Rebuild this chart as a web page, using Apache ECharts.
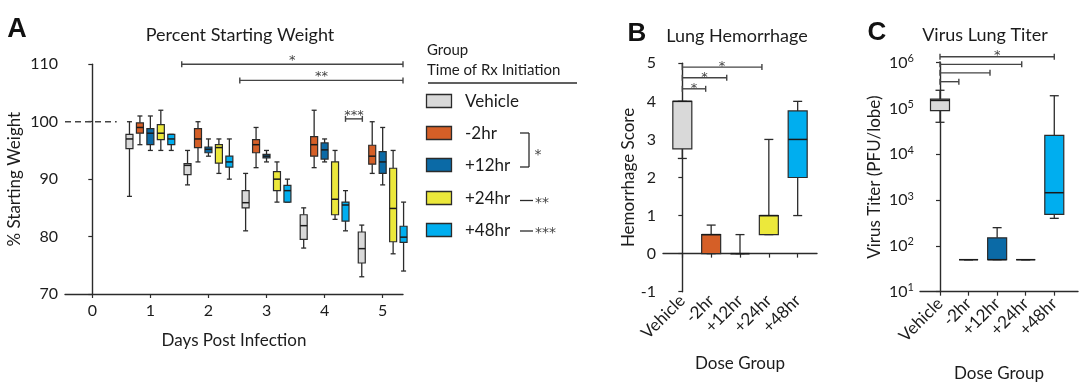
<!DOCTYPE html>
<html><head><meta charset="utf-8">
<script src="https://cdn.jsdelivr.net/npm/echarts@6/dist/echarts.min.js"></script>
<style>html,body{margin:0;padding:0;background:#fff}#c{width:1080px;height:387px}</style>
</head><body><div id="c"></div>
<script>
// ---------------- data ----------------
const days = [1, 2, 3, 4, 5];
const dayTicks = [0, 1, 2, 3, 4, 5];
const groupNames = ['Vehicle', '-2hr', '+12hr', '+24hr', '+48hr'];
// each entry: [min, q1, median, q3, max]
const weightVehicle = [[87, 95.3, 97, 97.8, 100], [89, 90.8, 92.4, 92.7, 95], [81, 85, 85.9, 88, 91], [78, 79.5, 81.9, 83.8, 85], [73, 75.4, 77.9, 80.8, 82]];
const weightMinus2 = [[96, 98, 99, 99.8, 101], [93, 95.5, 97, 98.8, 100], [92, 94.6, 96, 96.9, 99], [92, 94, 96, 97.4, 102], [91, 92.6, 94, 95.9, 100]];
const weightPlus12 = [[95, 96, 98, 98.8, 101], [94, 94.6, 95.2, 95.6, 97], [93, 93.7, 94, 94.3, 95], [93, 93.5, 95.1, 96.3, 97], [89, 91, 93, 94.8, 99]];
const weightPlus24 = [[95, 96.9, 98, 99.5, 102], [91, 92.8, 95.5, 96, 97], [86, 88, 90, 91.3, 93], [83, 83.8, 86.5, 93, 95], [77, 79.1, 84.9, 91.9, 95]];
const weightPlus48 = [[95, 96, 97, 97.8, 97.8], [90, 92.1, 93, 94, 97], [86, 86, 88, 88.9, 90], [81, 82.7, 85.5, 86, 88], [74, 79, 79.9, 81.8, 86]];
const baselineWeight = 100;
const baselineDays = [-0.47, 0.42];
const hemorrhage = [[2.5, 2.75, 4, 4, 4], [0, 0, 0.5, 0.5, 0.75], [0, 0, 0, 0, 0.5], [0.5, 0.5, 1, 1, 3], [1, 2, 3, 3.75, 4]];
const titer = [[5e4, 9e4, 1.5e5, 1.6e5, 2.5e5], [50, 50, 50, 50, 50], [50, 50, 50, 150, 250], [50, 50, 50, 50, 50], [400, 490, 1450, 26000, 190000]];
// significance bars: [from, to, level]
const sigA = [[1.54, 5.35, 110], [2.54, 5.35, 107.2], [4.36, 4.65, 100.5]];
const sigALabels = ['*', '**', '***'];
const sigB = [[0, 2.76, 4.9], [0, 1.54, 4.62], [0, 0.81, 4.33]];
const sigBLabels = ['*', '*', '*'];
const sigC = [[0, 4, 1.35e6], [0, 2.86, 9.2e5], [0, 1.75, 6e5], [0, 0.66, 3.85e5]];
const sigCLabels = ['*', '', '', ''];

// ---------------- styles ----------------
const FONT = 'Lato';
const STARFONT = '"DejaVu Sans"';
const TXT = '#1c1c1c';
const colors = ['#d9d9d9', '#d55f27', '#0b6aa6', '#ece83b', '#00aeef'];
const groupOffsets = [-0.36, -0.18, 0, 0.18, 0.36];
const INK = '#2b2b2b';
const weightSets = [weightVehicle, weightMinus2, weightPlus12, weightPlus24, weightPlus48];

function boxRenderer(boxW, capW, colorFn) {
  return function (params, api) {
    const x = api.value(0);
    const p = [1, 2, 3, 4, 5].map(i => api.coord([x, api.value(i)]));
    const cx = p[0][0];
    const yMin = p[0][1], yQ1 = p[1][1], yMed = p[2][1], yQ3 = p[3][1], yMax = p[4][1];
    const ls = { stroke: INK, lineWidth: 1.3 };
    return {
      type: 'group',
      children: [
        { type: 'line', shape: { x1: cx, y1: yMin, x2: cx, y2: yQ1 }, style: ls },
        { type: 'line', shape: { x1: cx, y1: yQ3, x2: cx, y2: yMax }, style: ls },
        { type: 'line', shape: { x1: cx - capW / 2, y1: yMin, x2: cx + capW / 2, y2: yMin }, style: ls },
        { type: 'line', shape: { x1: cx - capW / 2, y1: yMax, x2: cx + capW / 2, y2: yMax }, style: ls },
        { type: 'rect', shape: { x: cx - boxW / 2, y: yQ3, width: boxW, height: Math.max(yQ1 - yQ3, 0) },
          style: { fill: colorFn(params.dataIndex), stroke: INK, lineWidth: 1.2 } },
        { type: 'line', shape: { x1: cx - boxW / 2, y1: yMed, x2: cx + boxW / 2, y2: yMed }, style: { stroke: '#1a1a1a', lineWidth: 1.5 } }
      ]
    };
  };
}

function sigRenderer(labels, tickH, textDy) {
  return function (params, api) {
    const a = api.coord([api.value(0), api.value(2)]);
    const b = api.coord([api.value(1), api.value(2)]);
    const ls = { stroke: '#444', lineWidth: 1.4 };
    const ch = [
      { type: 'line', shape: { x1: a[0], y1: a[1], x2: b[0], y2: b[1] }, style: ls },
      { type: 'line', shape: { x1: a[0], y1: a[1] - tickH, x2: a[0], y2: a[1] + tickH }, style: ls },
      { type: 'line', shape: { x1: b[0], y1: b[1] - tickH, x2: b[0], y2: b[1] + tickH }, style: ls }
    ];
    const t = labels[params.dataIndex];
    if (t) ch.push({ type: 'text', x: (a[0] + b[0]) / 2, y: a[1] + textDy,
      style: { text: t, fill: '#444', font: '13px ' + STARFONT, align: 'center', verticalAlign: 'bottom' } });
    return { type: 'group', children: ch };
  };
}

const axisLineStyle = { lineStyle: { color: INK, width: 1.4 } };
const tickStyle = { show: true, inside: false, length: 4, lineStyle: { color: INK, width: 1.2 } };
const labelBase = { color: TXT, fontSize: 16, fontFamily: FONT };
const nameStyle = { color: TXT, fontSize: 17, fontFamily: FONT };

const series = [];
weightSets.forEach((set, g) => {
  series.push({
    type: 'custom', xAxisIndex: 0, yAxisIndex: 0, clip: false,
    renderItem: boxRenderer(7, 5, () => colors[g]),
    encode: { x: 0, y: [1, 2, 3, 4, 5] },
    data: set.map((v, i) => [days[i] + groupOffsets[g]].concat(v))
  });
});
series.push({
  type: 'line', xAxisIndex: 0, yAxisIndex: 0, symbol: 'none',
  lineStyle: { color: '#444', width: 1.3, type: [6, 4] },
  data: baselineDays.map(d => [d, baselineWeight])
});
series.push({ type: 'custom', xAxisIndex: 0, yAxisIndex: 0, clip: false, renderItem: sigRenderer(sigALabels, 3, 3), data: sigA });
series.push({
  type: 'custom', xAxisIndex: 1, yAxisIndex: 1, clip: false,
  renderItem: boxRenderer(19, 9, i => colors[i]),
  encode: { x: 0, y: [1, 2, 3, 4, 5] },
  data: hemorrhage.map((v, i) => [i].concat(v))
});
series.push({ type: 'custom', xAxisIndex: 1, yAxisIndex: 1, clip: false, renderItem: sigRenderer(sigBLabels, 3, 6), data: sigB });
series.push({
  type: 'custom', xAxisIndex: 2, yAxisIndex: 2, clip: false,
  renderItem: boxRenderer(19, 9, i => colors[i]),
  encode: { x: 0, y: [1, 2, 3, 4, 5] },
  data: titer.map((v, i) => [i].concat(v))
});
series.push({ type: 'custom', xAxisIndex: 2, yAxisIndex: 2, clip: false, renderItem: sigRenderer(sigCLabels, 3, 5), data: sigC });

const catIdx = [0, 1, 2, 3, 4];
function catXAxis(grid, min, max, nameGap, margin) {
  return {
    type: 'value', gridIndex: grid, min: min, max: max, splitLine: { show: false },
    axisLine: axisLineStyle, axisTick: Object.assign({ customValues: catIdx }, tickStyle),
    axisLabel: Object.assign({}, labelBase, { customValues: catIdx, rotate: 45, margin: margin, fontSize: 17, formatter: v => groupNames[Math.round(v)] }),
    name: 'Dose Group', nameLocation: 'middle', nameGap: nameGap, nameTextStyle: nameStyle
  };
}

// legend graphics
const legendY = [101, 133, 165, 198, 230];
const graphic = [];
function txt(x, y, s, font, align, va, fill) {
  graphic.push({ type: 'text', x: x, y: y, style: { text: s, font: font, fill: fill || TXT, align: align || 'left', verticalAlign: va || 'middle' } });
}
function ln(x1, y1, x2, y2, w) {
  graphic.push({ type: 'line', shape: { x1: x1, y1: y1, x2: x2, y2: y2 }, style: { stroke: INK, lineWidth: w || 1.3 } });
}
txt(17, 30, 'A', 'bold 27px "Liberation Sans"', 'center', 'middle', '#111');
txt(637, 34, 'B', 'bold 26px "Liberation Sans"', 'center', 'middle', '#111');
txt(877, 33, 'C', 'bold 26px "Liberation Sans"', 'center', 'middle', '#111');
txt(240, 35, 'Percent Starting Weight', '18px ' + FONT, 'center');
txt(737, 36, 'Lung Hemorrhage', '18px ' + FONT, 'center');
txt(985, 35, 'Virus Lung Titer', '18px ' + FONT, 'center');
txt(427, 50, 'Group', '15px ' + FONT);
txt(427, 70, 'Time of Rx Initiation', '15px ' + FONT);
ln(428, 83, 577, 83, 1.3);
groupNames.forEach((n, i) => {
  graphic.push({ type: 'rect', shape: { x: 426.5, y: legendY[i] - 6.5, width: 25, height: 13 }, style: { fill: colors[i], stroke: INK, lineWidth: 1.3 } });
  txt(465, legendY[i] + 1, n, '17px ' + FONT);
});
ln(520, 133, 529, 133); ln(529, 133, 529, 167); ln(520, 167, 529, 167);
txt(538, 155, '*', '14px ' + STARFONT, 'center', 'middle', '#444');
ln(520, 200.5, 533, 200.5); txt(535, 203, '**', '14px ' + STARFONT, 'left', 'middle', '#444');
ln(520, 231, 533, 231); txt(535, 233.5, '***', '14px ' + STARFONT, 'left', 'middle', '#444');

const option = {
  animation: false,
  textStyle: { fontFamily: FONT },
  grid: [
    { left: 65, top: 64.3, width: 338, height: 229.7 },
    { left: 663, top: 63.3, width: 154, height: 228.4 },
    { left: 920, top: 62.7, width: 158, height: 229 }
  ],
  xAxis: [
    {
      type: 'value', gridIndex: 0, min: -0.47, max: 5.35, splitLine: { show: false },
      axisLine: axisLineStyle, axisTick: Object.assign({ customValues: dayTicks }, tickStyle),
      axisLabel: Object.assign({ customValues: dayTicks, margin: 9 }, labelBase),
      name: 'Days Post Infection', nameLocation: 'middle', nameGap: 38, nameTextStyle: nameStyle
    },
    catXAxis(1, -0.67, 4.67, 63, 6),
    catXAxis(2, -0.7, 4.83, 73, 9)
  ],
  yAxis: [
    {
      type: 'value', gridIndex: 0, min: 70, max: 110, interval: 10, splitLine: { show: false },
      axisLine: Object.assign({ show: true }, axisLineStyle), axisTick: tickStyle,
      axisLabel: Object.assign({ margin: 7 }, labelBase),
      name: '% Starting Weight', nameLocation: 'middle', nameGap: 42, nameTextStyle: nameStyle
    },
    {
      type: 'value', gridIndex: 1, min: -1, max: 5, interval: 1, splitLine: { show: false },
      axisLine: Object.assign({ show: true }, axisLineStyle), axisTick: tickStyle,
      axisLabel: Object.assign({ margin: 7 }, labelBase),
      name: 'Hemorrhage Score', nameLocation: 'middle', nameGap: 26, nameTextStyle: nameStyle
    },
    {
      type: 'log', logBase: 10, gridIndex: 2, min: 10, max: 1e6, splitLine: { show: false },
      axisLine: Object.assign({ show: true }, axisLineStyle), axisTick: tickStyle,
      axisLabel: Object.assign({}, labelBase, { margin: 6,
        formatter: v => '{b|10}{s|' + Math.round(Math.log10(v)) + '}',
        rich: { b: { fontSize: 16, fontFamily: FONT, color: TXT }, s: { fontSize: 11, fontFamily: FONT, color: TXT, padding: [0, 0, 8, 0] } } }),
      name: 'Virus Titer (PFU/lobe)', nameLocation: 'middle', nameGap: 37, nameTextStyle: nameStyle
    }
  ],
  series: series,
  graphic: graphic
};
const chart = echarts.init(document.getElementById('c'), null, { renderer: 'canvas' });
chart.setOption(option);
</script></body></html>
